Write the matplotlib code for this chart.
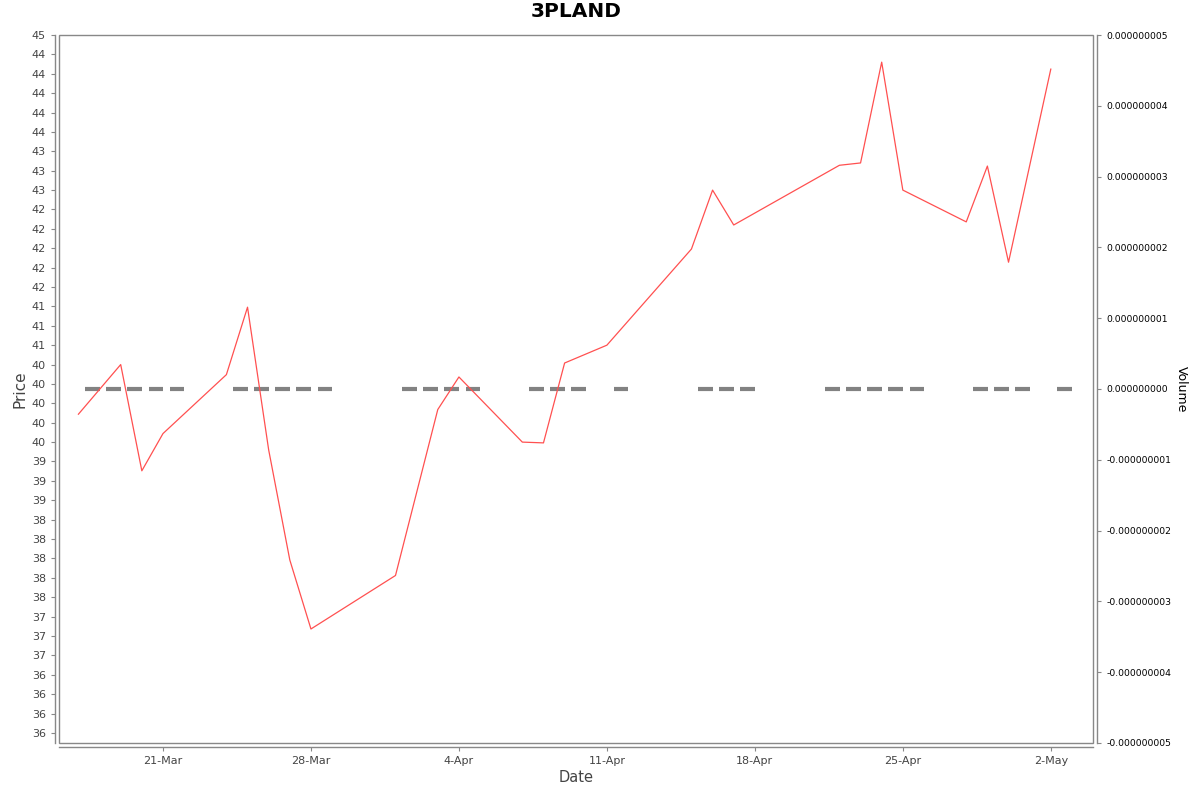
import matplotlib
matplotlib.use("Agg")
import matplotlib.pyplot as plt
import matplotlib.ticker as mticker
from matplotlib.patches import Rectangle
from datetime import datetime, timedelta

# price series
price_dates = ["2025-03-17", "2025-03-19", "2025-03-20", "2025-03-21", "2025-03-24",
               "2025-03-25", "2025-03-26", "2025-03-27", "2025-03-28", "2025-04-01",
               "2025-04-03", "2025-04-04", "2025-04-07", "2025-04-08", "2025-04-09",
               "2025-04-11", "2025-04-15", "2025-04-16", "2025-04-17", "2025-04-22",
               "2025-04-23", "2025-04-24", "2025-04-25", "2025-04-28", "2025-04-29",
               "2025-04-30", "2025-05-02"]
prices = [39.86, 40.50, 39.13, 39.61, 40.37, 41.24, 39.40, 37.98, 37.09, 37.78,
          39.92, 40.34, 39.50, 39.49, 40.52, 40.75, 41.99, 42.75, 42.30, 43.07,
          43.10, 44.40, 42.75, 42.34, 43.06, 41.82, 44.31]

# volume series (all zero)
volume_dates = ["2025-03-17", "2025-03-18", "2025-03-19", "2025-03-20", "2025-03-21",
                "2025-03-24", "2025-03-25", "2025-03-26", "2025-03-27", "2025-03-28",
                "2025-04-01", "2025-04-02", "2025-04-03", "2025-04-04",
                "2025-04-07", "2025-04-08", "2025-04-09", "2025-04-11",
                "2025-04-15", "2025-04-16", "2025-04-17",
                "2025-04-21", "2025-04-22", "2025-04-23", "2025-04-24", "2025-04-25",
                "2025-04-28", "2025-04-29", "2025-04-30", "2025-05-02"]
volumes = [0] * len(volume_dates)

volume_ticks = [-5e-9, -4e-9, -3e-9, -2e-9, -1e-9, 0.0, 1e-9, 2e-9, 3e-9, 4e-9, 5e-9]

tick_dates = ["2025-03-21", "2025-03-28", "2025-04-04", "2025-04-11",
              "2025-04-18", "2025-04-25", "2025-05-02"]
tick_labels = ["21-Mar", "28-Mar", "4-Apr", "11-Apr", "18-Apr", "25-Apr", "2-May"]

to_dt = lambda s: datetime.strptime(s, "%Y-%m-%d")
px = [to_dt(d) for d in price_dates]
vx = [to_dt(d) + timedelta(hours=16) for d in volume_dates]
tx = [to_dt(d) for d in tick_dates]

fig = plt.figure(figsize=(12, 7.92), dpi=100)
ax = fig.add_axes([0.0492, 0.0619, 0.8617, 0.8939])
ax2 = ax.twinx()

ax2.bar(vx, volumes, width=0.7, color='#828282', edgecolor='#828282', linewidth=3)
ax2.set_ylim(-5e-9, 5e-9)
ax2.yaxis.set_major_locator(mticker.FixedLocator(volume_ticks))
ax2.yaxis.set_major_formatter(mticker.FuncFormatter(
    lambda v, p: f"{(0.0 if abs(v) < 1e-13 else v):.9f}"))
ax2.tick_params(axis='y', labelsize=6.7, colors='black', length=3, color='#888888')
ax2.set_ylabel('Volume', rotation=270, fontsize=9, labelpad=12)

ax.plot(px, prices, color='#ff5050', linewidth=0.9)
ax.set_zorder(ax2.get_zorder() + 1)
ax.patch.set_visible(False)

ax.set_ylim(35.62, 44.75)
ax.yaxis.set_major_locator(mticker.MultipleLocator(0.25))
ax.yaxis.set_major_formatter(mticker.FormatStrFormatter('%.0f'))
ax.set_xlim(datetime(2025, 3, 16, 2), datetime(2025, 5, 4))
ax.set_xticks(tx)
ax.set_xticklabels(tick_labels)
ax.tick_params(axis='both', labelsize=8, labelcolor='#444444', color='#888888', length=3)

ax.set_title('3PLAND', fontsize=14.5, fontweight='bold', pad=13)
ax.set_xlabel('Date', fontsize=10.5, color='#444444', labelpad=3)
ax.set_ylabel('Price', fontsize=11, color='#444444', labelpad=3)

for a in (ax, ax2):
    for s in a.spines.values():
        s.set_visible(False)
ax.spines['left'].set_visible(True)
ax.spines['bottom'].set_visible(True)
ax2.spines['right'].set_visible(True)
ax.spines['left'].set_position(('outward', 3))
ax.spines['bottom'].set_position(('outward', 3))
ax2.spines['right'].set_position(('outward', 3))
for s in (ax.spines['left'], ax.spines['bottom'], ax2.spines['right']):
    s.set_color('#888888')
    s.set_linewidth(1)

ax.add_patch(Rectangle((0, 0), 1, 1, transform=ax.transAxes, fill=False,
                       edgecolor='#888888', linewidth=1, clip_on=False))

fig.savefig('out.png', dpi=100)
